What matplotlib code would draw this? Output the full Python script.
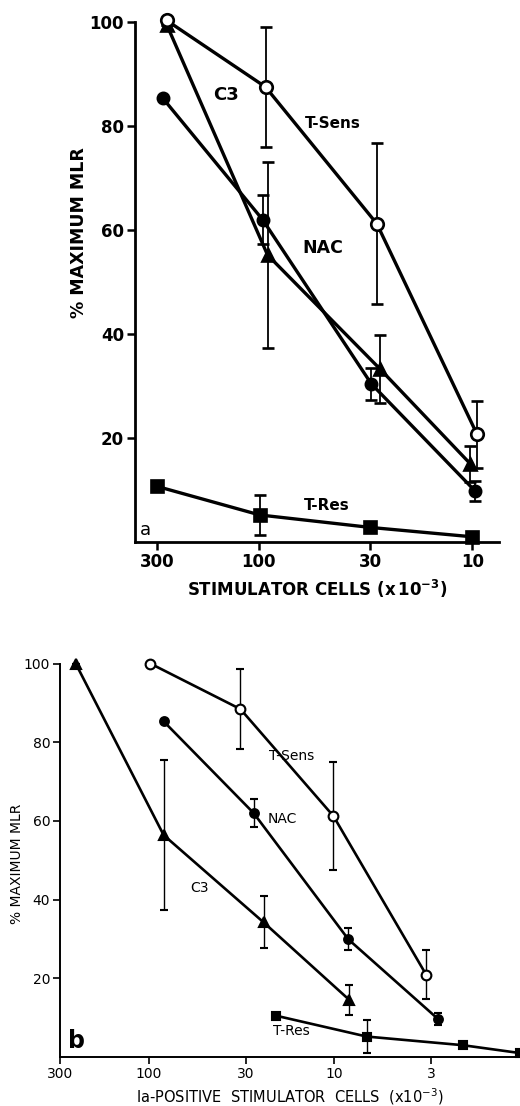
"""
MLR dose-response, two panels (a: all stimulator cells, b: Ia-positive cells)
"""

import numpy as np
import matplotlib
matplotlib.use("Agg")
import matplotlib.pyplot as plt

plt.rcParams['font.family'] = ['DejaVu Sans']

# ---- panel a data ----
a_ticks = [300, 100, 30, 10]
a_tsens_x = [270, 93, 28, 9.5]
a_tsens_y = [100.3, 87.5, 61.2, 20.7]
a_tsens_err = [0, 11.5, 15.5, 6.5]
a_nac_x = [281, 96, 29.7, 9.7]
a_nac_y = [85.3, 62.0, 30.4, 9.8]
a_nac_err = [0, 4.7, 3.0, 2.0]
a_c3_x = [270, 91, 27.1, 10.2]
a_c3_y = [99.5, 55.2, 33.3, 15.0]
a_c3_err = [0, 17.8, 6.5, 3.4]
a_tres_x = [300, 99, 30, 10]
a_tres_y = [10.7, 5.2, 2.8, 1.0]
a_tres_err = [0, 3.9, 0.8, 0.8]

# ---- panel b data ----
b_ticks = [300, 100, 30, 10, 3]
b_tsens_x = [98, 32, 10.1, 3.2]
b_tsens_y = [100, 88.4, 61.2, 20.9]
b_tsens_err = [0, 10.1, 13.8, 6.2]
b_nac_x = [83, 27.2, 8.4, 2.77]
b_nac_y = [85.3, 62.0, 29.9, 9.7]
b_nac_err = [0, 3.6, 2.8, 1.6]
b_c3_x = [247, 83, 24, 8.3]
b_c3_y = [100, 56.4, 34.2, 14.5]
b_c3_err = [0, 19.0, 6.6, 3.8]
b_tres_x = [20.6, 6.7, 2.03, 1.0]
b_tres_y = [10.5, 5.2, 3.0, 1.0]
b_tres_err = [0, 4.2, 0, 0]

W, H = 520, 1106
fig = plt.figure(figsize=(W / 100, H / 100), dpi=100)


def draw_series(ax, x, y, err, marker, mfc, lw, ms, elw, cap):
    ax.errorbar(x, y, yerr=err, color="black", lw=lw, marker=marker,
                mfc=mfc, mec="black", mew=lw * 0.8, ms=ms,
                elinewidth=elw, capsize=cap, capthick=elw, clip_on=False,
                zorder=3)


# ---------------- panel a ----------------
ax = fig.add_axes([135 / W, 1 - 542 / H, 364 / W, 520 / H])
ax.set_xscale("log")
ax.set_xlim(380, 7.5)
ax.set_ylim(0, 100)
lw, ms = 2.4, 9
draw_series(ax, a_c3_x, a_c3_y, a_c3_err, "^", "black", lw, ms, 1.3, 4)
draw_series(ax, a_nac_x, a_nac_y, a_nac_err, "o", "black", lw, ms * 0.9, 1.3, 4)
draw_series(ax, a_tres_x, a_tres_y, a_tres_err, "s", "black", lw, ms * 0.9, 1.3, 4)
draw_series(ax, a_tsens_x, a_tsens_y, a_tsens_err, "o", "white", lw, ms, 1.3, 4)

ax.set_xticks(a_ticks)
ax.set_xticklabels([str(t) for t in a_ticks])
ax.xaxis.set_minor_locator(matplotlib.ticker.NullLocator())
ax.set_yticks([20, 40, 60, 80, 100])
for s in ["top", "right"]:
    ax.spines[s].set_visible(False)
for s in ["left", "bottom"]:
    ax.spines[s].set_linewidth(2)
ax.tick_params(width=1.8, length=6, labelsize=12, pad=2)
for lab in ax.get_xticklabels() + ax.get_yticklabels():
    lab.set_fontweight("bold")
ax.set_xlabel(r"STIMULATOR CELLS (x$\,$10$^{\mathbf{-3}}$)", fontsize=12,
              fontweight="bold", labelpad=5)
ax.set_ylabel("% MAXIMUM MLR", fontsize=12.5, fontweight="bold")
ax.yaxis.set_label_coords(-0.13, 0.596)

tk = dict(fontsize=11, fontweight="bold", ha="center", va="center")
ax.text(143, 86, "C3", fontsize=13, fontweight="bold", ha="center", va="center")
ax.text(45, 80.5, "T-Sens", **tk)
ax.text(50, 56.5, "NAC", fontsize=12.5, fontweight="bold", ha="center", va="center")
ax.text(48, 7, "T-Res", **tk)
ax.text(360, 2.3, "a", fontsize=13, ha="left", va="center")

# ---------------- panel b ----------------
bx = fig.add_axes([60 / W, 1 - 1057 / H, 460 / W, 393.5 / H])
bx.set_xscale("log")
bx.set_xlim(300, 1)
bx.set_ylim(0, 100)
lw, ms = 1.9, 7
draw_series(bx, b_c3_x, b_c3_y, b_c3_err, "^", "black", lw, ms, 1.0, 3)
draw_series(bx, b_nac_x, b_nac_y, b_nac_err, "o", "black", lw, ms * 0.9, 1.0, 3)
draw_series(bx, b_tres_x, b_tres_y, b_tres_err, "s", "black", lw, ms * 0.9, 1.0, 3)
draw_series(bx, b_tsens_x, b_tsens_y, b_tsens_err, "o", "white", lw, ms, 1.0, 3)

bx.set_xticks(b_ticks)
bx.set_xticklabels([str(t) for t in b_ticks])
bx.xaxis.set_minor_locator(matplotlib.ticker.NullLocator())
bx.set_yticks([20, 40, 60, 80, 100])
for s in ["top", "right"]:
    bx.spines[s].set_visible(False)
for s in ["left", "bottom"]:
    bx.spines[s].set_linewidth(1.4)
bx.tick_params(width=1.2, length=5, labelsize=10, pad=2)
bx.set_xlabel(r"Ia-POSITIVE  STIMULATOR  CELLS  (x10$^{-3}$)", fontsize=10.5,
              labelpad=4)
bx.set_ylabel("% MAXIMUM MLR", fontsize=10)
bx.yaxis.set_label_coords(-0.078, 0.49)

tk = dict(fontsize=10, ha="center", va="center")
bx.text(17, 76.5, "T-Sens", **tk)
bx.text(19, 60.5, "NAC", **tk)
bx.text(53, 43, "C3", **tk)
bx.text(17, 6.5, "T-Res", **tk)
bx.text(245, 4, "b", fontsize=17, fontweight="bold", ha="center", va="center")

fig.savefig("out.png", dpi=100)
